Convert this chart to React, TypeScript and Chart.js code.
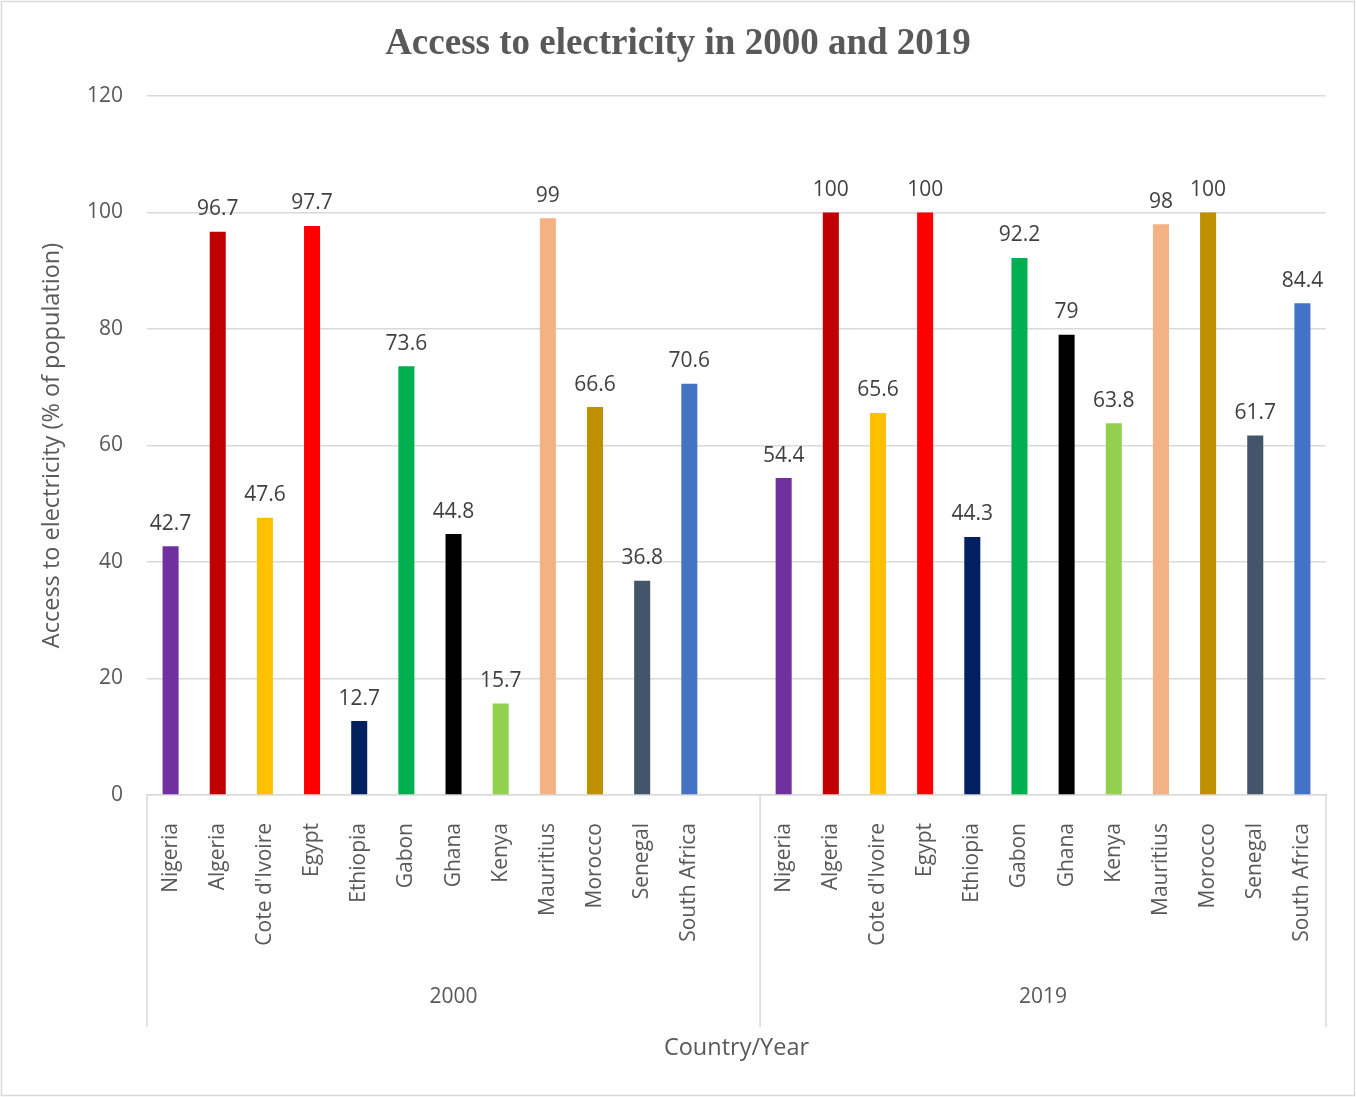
import React, { useEffect, useRef } from "react";
import { Chart, registerables } from "chart.js";

Chart.register(...registerables);

const countries = [
  "Nigeria", "Algeria", "Cote d'Ivoire", "Egypt", "Ethiopia", "Gabon",
  "Ghana", "Kenya", "Mauritius", "Morocco", "Senegal", "South Africa",
];
const years = ["2000", "2019"];
const access2000 = [42.7, 96.7, 47.6, 97.7, 12.7, 73.6, 44.8, 15.7, 99, 66.6, 36.8, 70.6];
const access2019 = [54.4, 100, 65.6, 100, 44.3, 92.2, 79, 63.8, 98, 100, 61.7, 84.4];
const countryColors = [
  "#7030A0", "#C00000", "#FFC000", "#FF0000", "#002060", "#00B050",
  "#000000", "#92D050", "#F4B183", "#BF9000", "#44546A", "#4472C4",
];
const yTicks = [0, 20, 40, 60, 80, 100, 120];

const W = 1356;
const H = 1097;
const SANS = "'Open Sans', 'Noto Sans', sans-serif";
const GRID = "#d9d9d9";
const TEXT = "#595959";

// one empty slot closes the 2000 group
const labels = [...countries, "", ...countries];
const values: (number | null)[] = [...access2000, null, ...access2019];
const colors = [...countryColors, "rgba(0,0,0,0)", ...countryColors];

const decorations = {
  id: "decorations",
  beforeDraw(chart: any) {
    const { ctx } = chart;
    ctx.save();
    ctx.fillStyle = "#ffffff";
    ctx.fillRect(0, 0, W, H);
    ctx.strokeStyle = GRID;
    ctx.lineWidth = 1.5;
    ctx.strokeRect(1.5, 1.5, W - 3, H - 3);
    ctx.restore();
  },
  afterDraw(chart: any) {
    const { ctx, chartArea } = chart;
    const x = chart.scales.x;
    const meta = chart.getDatasetMeta(0);

    // title
    ctx.save();
    ctx.fillStyle = TEXT;
    ctx.font = "bold 37px 'Liberation Serif', 'Times New Roman', serif";
    ctx.textAlign = "center";
    ctx.textBaseline = "middle";
    ctx.fillText("Access to electricity in 2000 and 2019", W / 2, 44);

    // value labels
    ctx.fillStyle = "#404040";
    ctx.font = `21px ${SANS}`;
    ctx.textBaseline = "bottom";
    meta.data.forEach((bar: any, i: number) => {
      const v = values[i];
      if (v === null) return;
      ctx.fillText(String(v), bar.x, bar.y - 12);
    });

    // group dividers and year labels
    const groupSize = countries.length + 1;
    const step = x.getPixelForValue(1) - x.getPixelForValue(0);
    const bounds = [chartArea.left, x.getPixelForValue(groupSize) - step / 2, chartArea.right];
    ctx.strokeStyle = GRID;
    ctx.lineWidth = 1.5;
    bounds.forEach((bx) => {
      ctx.beginPath();
      ctx.moveTo(bx, chartArea.bottom);
      ctx.lineTo(bx, chartArea.bottom + 232);
      ctx.stroke();
    });
    ctx.fillStyle = TEXT;
    ctx.font = `21px ${SANS}`;
    ctx.textBaseline = "middle";
    years.forEach((yr, g) => {
      ctx.fillText(yr, (bounds[g] + bounds[g + 1]) / 2, chartArea.bottom + 202);
    });
    ctx.restore();
  },
};

export default function App() {
  const ref = useRef<HTMLCanvasElement>(null);

  useEffect(() => {
    if (!ref.current) return;
    const chart = new Chart(ref.current, {
      type: "bar",
      data: {
        labels,
        datasets: [
          {
            data: values,
            backgroundColor: colors,
            barPercentage: 0.34,
            categoryPercentage: 1,
          },
        ],
      },
      options: {
        responsive: false,
        animation: false,
        layout: { padding: { top: 96, right: 30, left: 0, bottom: 0 } },
        plugins: {
          legend: { display: false },
          tooltip: { enabled: false },
          title: { display: false },
        },
        scales: {
          x: {
            grid: { display: false },
            border: { display: true, color: GRID, width: 1.5 },
            ticks: {
              autoSkip: false,
              maxRotation: 90,
              minRotation: 90,
              padding: 20,
              color: TEXT,
              font: { family: SANS, size: 21 },
            },
            title: {
              display: true,
              text: "Country/Year",
              color: TEXT,
              font: { family: SANS, size: 23.5 },
              padding: { top: 0, bottom: 35 },
            },
            afterFit(scale: any) {
              scale.height = H - 795;
            },
          },
          y: {
            min: 0,
            max: 120,
            afterBuildTicks(scale: any) {
              scale.ticks = yTicks.map((v) => ({ value: v }));
            },
            grid: { color: GRID, lineWidth: 1.5, drawTicks: false },
            border: { display: false },
            ticks: {
              padding: 24,
              color: TEXT,
              font: { family: SANS, size: 21 },
            },
            title: {
              display: true,
              text: "Access to electricity (% of population)",
              color: TEXT,
              font: { family: SANS, size: 23.5 },
              padding: { top: 38, bottom: 0 },
            },
            afterFit(scale: any) {
              scale.width = 147;
            },
          },
        },
      },
      plugins: [decorations],
    });
    return () => chart.destroy();
  }, []);

  return (
    <div style={{ position: "fixed", left: 0, top: 0, width: W, height: H }}>
      <canvas ref={ref} width={W} height={H} style={{ display: "block" }} />
    </div>
  );
}
